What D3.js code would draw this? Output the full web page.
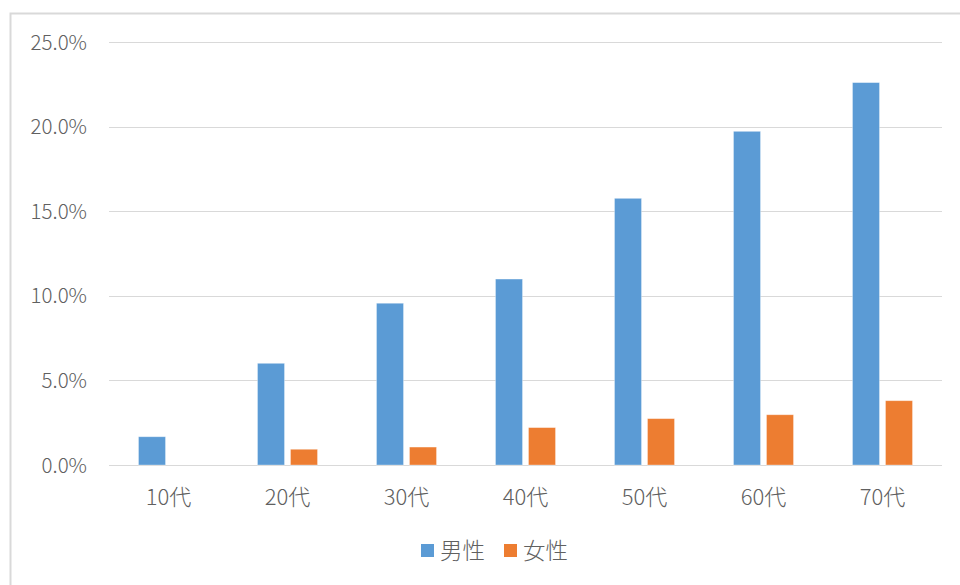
<!DOCTYPE html>
<html>
<head>
<meta charset="utf-8">
<script src="https://cdn.jsdelivr.net/npm/d3@7"></script>
<style>
  html, body { margin: 0; padding: 0; background: #fff; }
  svg { display: block; }
  text { font-family: "Noto Sans CJK JP", "Noto Sans", sans-serif; font-weight: 300; fill: #606060; }
</style>
</head>
<body>
<script>
// Age groups and share per group, by sex
const categories = ["10代", "20代", "30代", "40代", "50代", "60代", "70代"];
const seriesNames = ["男性", "女性"];
const male = [1.67, 6.01, 9.56, 10.99, 15.76, 19.72, 22.6];
const female = [0, 0.93, 1.06, 2.21, 2.74, 2.97, 3.80];
const yTicks = [0, 5, 10, 15, 20, 25];
const colors = ["#5b9bd5", "#ed7d31"];

const W = 960, H = 585;
const svg = d3.select("body").append("svg").attr("width", W).attr("height", H);

// chart frame
svg.append("rect")
  .attr("x", 10.5).attr("y", 13.5)
  .attr("width", W + 20).attr("height", H + 20)
  .attr("fill", "#fff").attr("stroke", "#d9d9d9").attr("stroke-width", 2);

const plot = { left: 109, right: 942, top: 42, bottom: 465 };

const x = d3.scaleBand().domain(categories).range([plot.left, plot.right]);
const y = d3.scaleLinear().domain([0, 25]).range([plot.bottom, plot.top]);

// gridlines
svg.append("g").selectAll("line").data(yTicks).join("line")
  .attr("x1", plot.left).attr("x2", plot.right)
  .attr("y1", d => Math.round(y(d)) + 0.5).attr("y2", d => Math.round(y(d)) + 0.5)
  .attr("stroke", "#d9d9d9").attr("stroke-width", 1.2);

// y axis labels
const yAxis = d3.axisLeft(y).tickValues(yTicks).tickSize(0).tickPadding(0)
  .tickFormat(d => d.toFixed(1) + "%");
const gy = svg.append("g").attr("transform", `translate(87,0)`).call(yAxis);
gy.select(".domain").remove();
gy.selectAll("text").attr("font-size", 20.5).attr("dy", "0.35em")
  .style("font-family", '"Noto Sans CJK JP", sans-serif').style("font-weight", 300)
  .attr("fill", "#606060");

// x axis labels
const xAxis = d3.axisBottom(x).tickSize(0).tickPadding(0);
const gx = svg.append("g").attr("transform", `translate(0,${plot.bottom + 32})`).call(xAxis);
gx.select(".domain").remove();
gx.selectAll("text").attr("font-size", 22).attr("dy", "0.35em")
  .style("font-family", '"Noto Sans CJK JP", sans-serif').style("font-weight", 300)
  .attr("fill", "#606060");

// bars
const barW = 27, gap = 6;
const series = [male, female];
series.forEach((vals, si) => {
  svg.append("g").selectAll("rect").data(vals).join("rect")
    .attr("x", (d, i) => x(categories[i]) + x.bandwidth() / 2 - barW - gap / 2 + si * (barW + gap))
    .attr("y", d => y(d))
    .attr("width", barW)
    .attr("height", d => y(0) - y(d))
    .attr("fill", colors[si])
    .attr("stroke", "#fff").attr("stroke-opacity", 0.4).attr("stroke-width", 0.8);
});

// legend
const legend = svg.append("g");
const legendX = [421, 504];
seriesNames.forEach((name, i) => {
  legend.append("rect")
    .attr("x", legendX[i]).attr("y", 544).attr("width", 13).attr("height", 13)
    .attr("fill", colors[i]);
  legend.append("text")
    .attr("x", legendX[i] + 19).attr("y", 551).attr("dy", "0.35em")
    .attr("font-size", 22.5).text(name);
});
</script>
</body>
</html>
